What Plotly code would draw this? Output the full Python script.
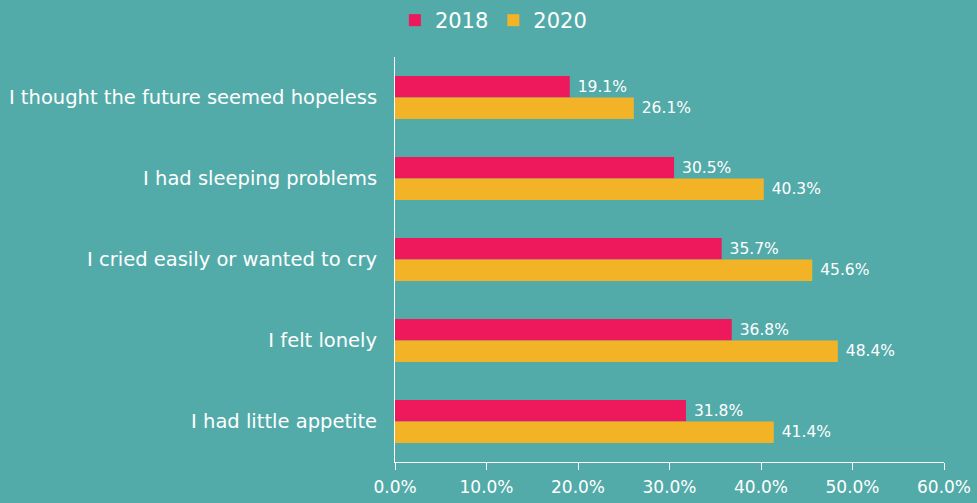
import plotly.graph_objects as go

categories = [
    "I thought the future seemed hopeless",
    "I had sleeping problems",
    "I cried easily or wanted to cry",
    "I felt lonely",
    "I had little appetite",
]
values_2018 = [19.1, 30.5, 35.7, 36.8, 31.8]
values_2020 = [26.1, 40.3, 45.6, 48.4, 41.4]
tick_vals = [0, 10, 20, 30, 40, 50, 60]
tick_text = ["0.0%", "10.0%", "20.0%", "30.0%", "40.0%", "50.0%", "60.0%"]

BG = "#53ABA9"
FONT = "DejaVu Sans"

fig = go.Figure()
fig.add_trace(go.Bar(
    y=categories, x=values_2018, orientation="h", name="2018",
    marker=dict(color="#EE185C", line=dict(width=0)),
    text=[f" {v:.1f}%" for v in values_2018], textposition="outside",
    textfont=dict(color="white", size=15.5, family=FONT), cliponaxis=False,
))
fig.add_trace(go.Bar(
    y=categories, x=values_2020, orientation="h", name="2020",
    marker=dict(color="#F2B326", line=dict(width=0)),
    text=[f" {v:.1f}%" for v in values_2020], textposition="outside",
    textfont=dict(color="white", size=15.5, family=FONT), cliponaxis=False,
))

fig.update_layout(
    width=977, height=503,
    paper_bgcolor=BG, plot_bgcolor=BG,
    margin=dict(l=395, r=33, t=57, b=41),
    barmode="group", bargap=0.47, bargroupgap=0,
    font=dict(family=FONT, color="white", size=17),
    showlegend=True,
    legend=dict(orientation="h", xref="container", x=0.505, xanchor="center",
                yref="container", y=1.0, yanchor="top",
                font=dict(size=21, color="white", family=FONT),
                bgcolor="rgba(0,0,0,0)", itemwidth=30, traceorder="normal"),
)
fig.update_xaxes(
    range=[0, 60], tickvals=tick_vals, ticktext=tick_text,
    showgrid=False, zeroline=False, showline=True, linecolor="white", linewidth=1,
    ticks="outside", ticklen=7, tickcolor="white", automargin=False,
    ticklabelstandoff=3,
    tickfont=dict(size=17, color="white"),
)
fig.update_yaxes(
    autorange="reversed", showgrid=False, zeroline=False,
    showline=True, linecolor="white", linewidth=1,
    ticks="", ticklabelstandoff=13, automargin=False,
    tickfont=dict(size=19.5, color="white"),
)

fig.write_html(
    "out.html",
    config={"displayModeBar": False},
    post_script="document.body.style.margin='0';document.body.style.background='%s';" % BG,
)
